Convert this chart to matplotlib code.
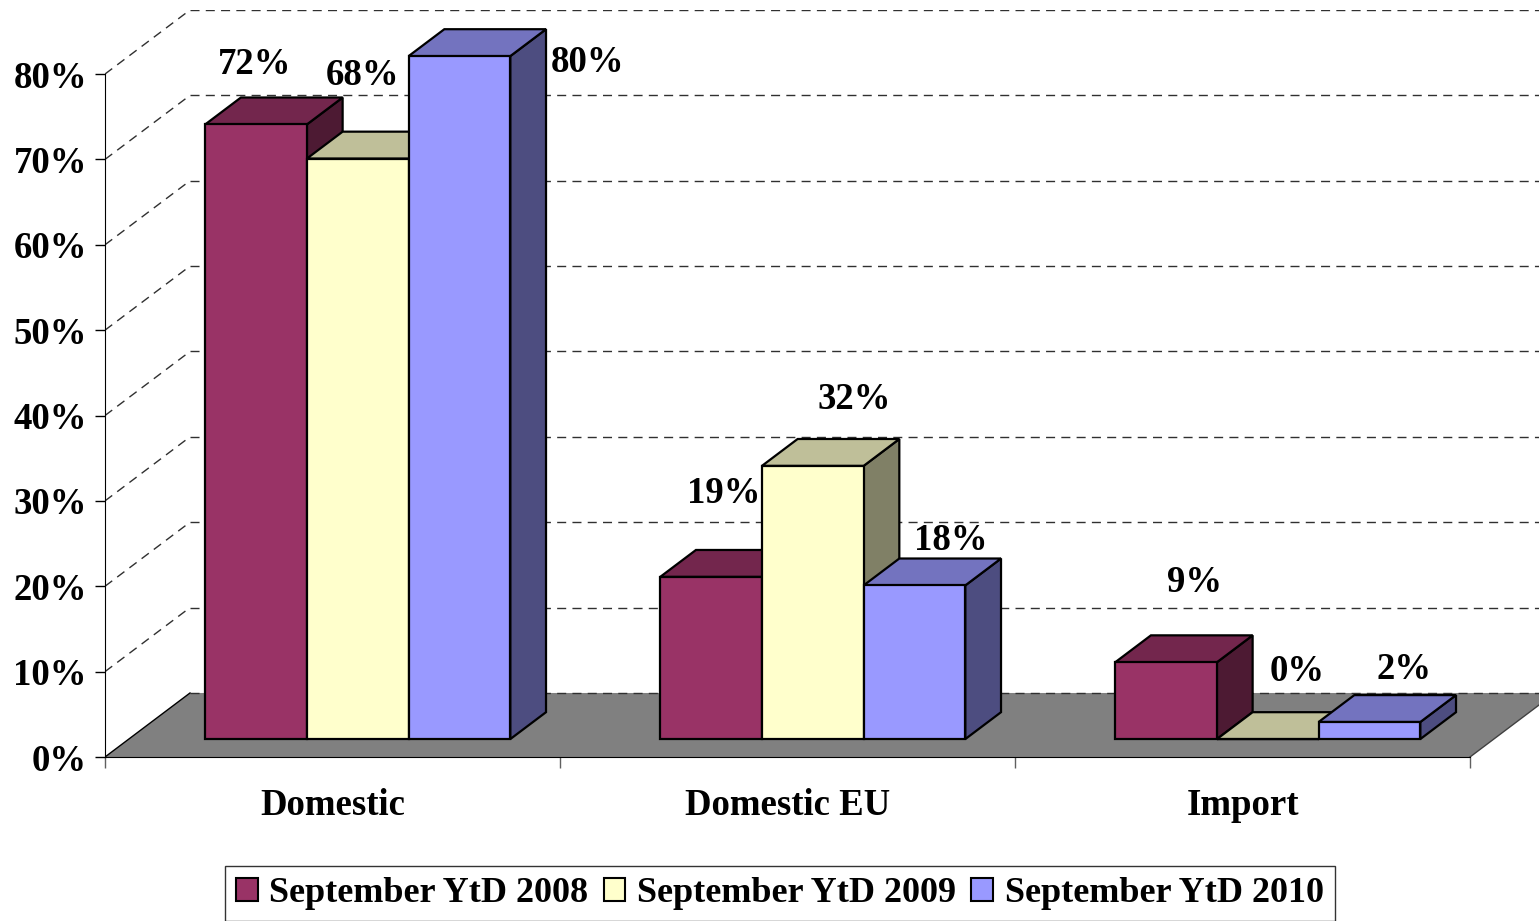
import matplotlib
matplotlib.use('Agg')
import matplotlib.pyplot as plt
from matplotlib.patches import Polygon, Patch

# ---------------- data ----------------
categories = ['Domestic', 'Domestic EU', 'Import']
series_names = ['September YtD 2008', 'September YtD 2009', 'September YtD 2010']
values_2008 = [72, 19, 9]
values_2009 = [68, 32, 0]
values_2010 = [80, 18, 2]
series_values = [values_2008, values_2009, values_2010]
yticks = [0, 10, 20, 30, 40, 50, 60, 70, 80]
ytick_labels = [f'{v}%' for v in yticks]

# ---------------- styles ----------------
front_colors = ['#993366', '#FFFFCC', '#9999FF']
top_colors = ['#73264D', '#BFBF99', '#7373BF']
side_colors = ['#4D1A33', '#808066', '#4D4D80']
# label offsets (pixels: right, up) from the front-top centre of each bar
label_offsets = [
    [(-1, 50), (13, 74), (28, 70)],
    [(4.5, 73.5), (41, 57), (29, 58)],
    [(128, -16), (36, 35), (35, 43)],
]

plt.rcParams['font.family'] = ['Liberation Serif', 'DejaVu Serif']
plt.rcParams['font.weight'] = 'bold'
FS = 26.5

W, H = 1539, 921
fig = plt.figure(figsize=(W / 100, H / 100), dpi=100)
UNIT = 455.0  # pixels per category
ax = fig.add_axes([105 / W, (H - 757) / H, (W - 105) / W, 747 / H])
XMAX = (W - 105) / UNIT
ax.set_xlim(0, XMAX)
ax.set_ylim(0, 87.5)
ax.set_facecolor('none')

DX, DY = 85 / UNIT, 7.5          # full depth vector in data units
D0, D1 = 0.28, 0.70              # bar depth range (fraction)
GAP, BW = 0.168, 0.2235          # group offset and bar width


def P(x, y, d):
    return (x + d * DX, y + d * DY)


ncat = len(categories)

# floor
floor = Polygon([P(0, 0, 0), P(ncat, 0, 0), P(ncat, 0, 1), P(0, 0, 1)],
                closed=True, facecolor='#808080', edgecolor='none', zorder=1)
ax.add_patch(floor)
ax.plot(*zip(P(0, 0, 0), P(0, 0, 1)), color='black', lw=1, zorder=2)
ax.plot(*zip(P(ncat, 0, 0), P(ncat, 0, 1)), color='#404040', lw=1, zorder=2)

# gridlines (side wall + back wall)
dash = (0, (6.5, 4.5))
GC = '#303030'
for v in yticks:
    if v > 0:
        ax.plot(*zip(P(0, v, 0), P(0, v, 1)), color=GC, lw=1,
                linestyle=dash, zorder=2)
    bx, by = P(0, v, 1)
    ax.plot([bx, XMAX], [by, by], color=GC, lw=1, linestyle=dash, zorder=2)

# bars
z = 10
for i in range(ncat):
    for j, vals in enumerate(series_values):
        v = vals[i]
        x0 = i + GAP + j * BW
        x1 = x0 + BW
        side = [P(x1, 0, D0), P(x1, 0, D1), P(x1, v, D1), P(x1, v, D0)]
        top = [P(x0, v, D0), P(x1, v, D0), P(x1, v, D1), P(x0, v, D1)]
        front = [P(x0, 0, D0), P(x1, 0, D0), P(x1, v, D0), P(x0, v, D0)]
        for poly, col in ((side, side_colors[j]), (top, top_colors[j]), (front, front_colors[j])):
            ax.add_patch(Polygon(poly, closed=True, facecolor=col, edgecolor='black',
                                 lw=1.6, joinstyle='miter', zorder=z))
            z += 1
        cx, cy = P((x0 + x1) / 2, v, D0)
        ox, oy = label_offsets[j][i]
        ax.annotate(f'{v}%', xy=(cx, cy), xytext=(ox, oy), textcoords='offset pixels',
                    ha='center', va='baseline', fontsize=FS, fontweight='bold',
                    zorder=100, annotation_clip=False)

# axes spines / ticks
for s in ('top', 'right'):
    ax.spines[s].set_visible(False)
ax.spines['left'].set_bounds(0, 80)
ax.spines['bottom'].set_bounds(0, ncat)
ax.spines['left'].set_zorder(5)
ax.spines['bottom'].set_zorder(5)
ax.set_yticks(yticks, ytick_labels)
ax.tick_params(axis='y', direction='out', length=7.5, width=1, pad=5.5, labelsize=FS)
ax.set_xticks(list(range(ncat + 1)), [''] * (ncat + 1))
ax.tick_params(axis='x', which='major', direction='out', length=8, width=1, color='#606060')
ax.set_xticks([i + 0.5 for i in range(ncat)], categories, minor=True)
ax.tick_params(axis='x', which='minor', length=0, pad=22.5, labelsize=FS)
for lab in ax.get_yticklabels() + ax.get_xticklabels(minor=True):
    lab.set_fontweight('bold')

# legend
handles = [Patch(facecolor=front_colors[k], edgecolor='black', lw=1.5) for k in range(3)]
leg = fig.legend(handles, series_names, loc='upper left',
                 bbox_to_anchor=(225 / W, 1 - 866 / H), bbox_transform=fig.transFigure,
                 ncol=3, frameon=True, fancybox=False, edgecolor='black',
                 borderaxespad=0, prop={'size': 26, 'weight': 'bold'},
                 handlelength=0.6, handleheight=0.6, handletextpad=0.33,
                 columnspacing=0.42, borderpad=0.3)
leg.get_frame().set_linewidth(1)

fig.savefig('out.png', dpi=100)
